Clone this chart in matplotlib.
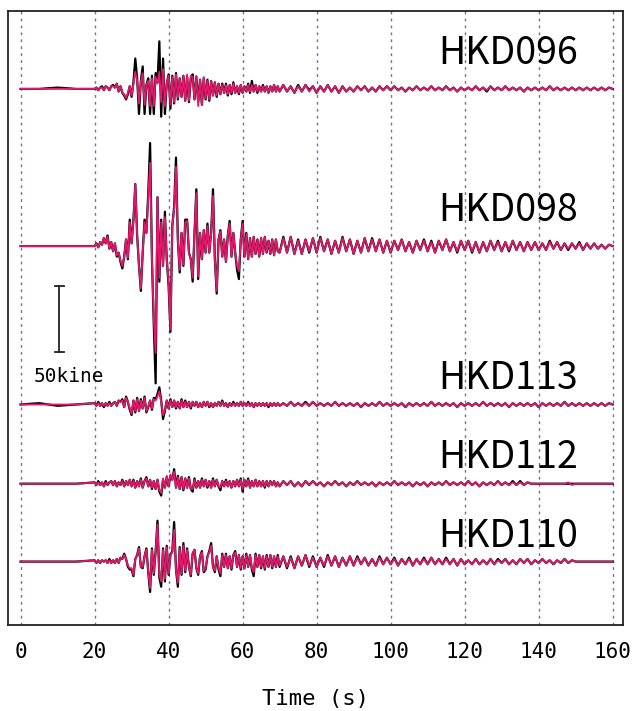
import numpy as np
import matplotlib
matplotlib.use("Agg")
import matplotlib.pyplot as plt

# time grid (s): coarse before onset, 0.5 s through the strong motion, 1 s in the coda
t = np.concatenate([np.arange(0, 20, 5), np.arange(20, 70, 0.5), np.arange(70, 161, 1)])

stations = ["HKD096", "HKD098", "HKD113", "HKD112", "HKD110"]
offsets = [406, 287, 167, 107, 48]          # trace baselines (kine)
label_y = [433, 314, 187, 127, 67]

# velocity (kine); black = observed, magenta = simulated
hkd096_obs = [0, 0, 1, 0,
    0, 1, -1, 1, 2, -1, 2, 1, -1, 2,
    3, 1, 4, -2, 2, -3, -5, -8, -4, 2,
    -6, 5, 23, 8, -19, 6, 17, -19, 3, 8,
    -19, 10, -19, 12, 5, 36, -21, 23, -19, 4,
    11, -15, 10, -11, 12, -8, 8, -6, 10, -9,
    9, -10, 8, 11, -8, 9, -10, 7, -12, 8,
    -8, 7, -9, 6, -5, 5, -6, 4, -4, 4,
    -3, 4, -5, 3, -4, 5, -3, 2, -4, 3,
    -3, 2, -2, 4, -3, 6, -2, 3, -3, 2,
    -2, 3, -2, 2, -3, 2, -2, 3, -2, 2,
    -2, 3, -2, 2, -3, 3, -2, 3, -1, 2,
    -3, 2, -2, 3, -2, 2, -3, 2, -2, 1,
    -2, 2, -1, 2, -2, 1, -2, 2, -1, 2,
    -1, 2, -1, 1, -2, 1, -1, 2, -1, 1,
    -1, 2, -1, 1, -1, 2, -1, 1, -2, 1,
    -1, 1, -1, 2, -1, 1, -2, 2, -1, 1,
    -1, 2, -1, 1, -1, 1, -2, 1, -1, 1,
    -1, 1, -1, 2, -1, 1, -1, 1, -1, 1,
    -1, 1, -1, 1, -1, 1, -1, 1, -1, 1, 0]
hkd096_syn = [0, 0, 0, 0,
    0, 1, -1, 1, 1, -1, 2, 1, -1, 2,
    2, 1, 4, -2, 2, -3, -4, -7, -3, 2,
    -5, 4, 13, 6, -11, 5, 12, -12, 3, 6,
    -13, 8, -13, 9, 4, 13, -10, 15, -13, 4,
    10, -12, 9, -10, 11, -7, 8, -6, 10, -9,
    11, -9, 10, 9, -8, 10, -13, 7, -12, 9,
    -7, 6, -8, 6, -5, 5, -5, 4, -4, 3,
    -3, 3, -4, 3, -3, 4, -3, 2, -3, 3,
    -3, 2, -2, 3, -2, 3, -2, 3, -2, 2,
    -2, 2, -2, 2, -3, 2, -2, 3, -2, 2,
    -2, 3, -2, 2, -3, 2, -2, 3, -2, 2,
    -3, 2, -2, 3, -2, 2, -3, 2, -2, 1,
    -2, 2, -1, 2, -2, 1, -2, 2, -1, 2,
    -1, 2, -1, 1, -2, 1, -1, 2, -1, 1,
    -1, 2, -1, 1, -1, 2, -1, 1, -2, 1,
    -1, 1, -1, 2, -1, 1, -1, 2, -1, 1,
    -1, 2, -1, 1, -1, 1, -2, 1, -1, 1,
    -1, 1, -1, 2, -1, 1, -1, 1, -1, 1,
    -1, 1, -1, 1, -1, 1, -1, 1, -1, 1, 0]

hkd098_obs = [0, 0, 0, 0,
    0, 2, -1, 3, 1, 6, 2, 8, -2, 3,
    -4, 2, -8, -5, -12, -17, -8, 5, -10, 20,
    2, 20, 47, 8, -15, -34, -5, 20, 10, 40,
    78, -10, -60, -104, 37, -27, 20, -15, 26, -10,
    -30, -65, 15, 30, 67, 5, -20, 10, -15, 20,
    20, -5, -10, -27, 10, 43, -25, 10, -10, 12,
    -5, 17, -5, 10, 43, -10, -36, 5, 12, -8,
    5, -12, 8, 19, -8, 10, -5, -18, -25, 5,
    19, -8, 10, -10, 6, -8, 7, -6, 5, -8,
    6, -6, 7, -5, 4, -6, 5, -7, 5, -4,
    -5, 7, -5, 7, -6, 5, -6, 5, -5, 6,
    -5, 7, -4, 5, -6, 4, -5, 7, -4, 5,
    -6, 4, -5, 6, -4, 6, -4, 5, -5, 4,
    -5, 4, -3, 5, -4, 3, -5, 4, -3, 5,
    -4, 4, -5, 4, -3, 5, -4, 3, -5, 4,
    -3, 4, -5, 3, -5, 3, -4, 4, -3, 4,
    -4, 3, -4, 4, -3, 3, -4, 3, -3, 3,
    -3, 2, -3, 4, -2, 3, -3, 2, -3, 2,
    -2, 3, -3, 2, -2, 2, -2, 1, -2, 1, 0]
hkd098_syn = [0, 0, 0, 0,
    0, 2, -1, 3, 1, 6, 2, 7, -2, 3,
    -4, 2, -7, -5, -11, -15, -8, 5, -9, 18,
    2, 20, 47, 8, -15, -32, -5, 18, 10, 36,
    63, -10, -55, -81, 37, -24, 18, -15, 22, -10,
    -28, -63, 15, 28, 60, 5, -18, 10, -14, 18,
    19, -5, -10, -24, 10, 40, -23, 10, -10, 12,
    -5, 15, -5, 10, 38, -10, -34, 5, 11, -8,
    5, -12, 8, 17, -8, 10, -5, -15, -19, 5,
    17, -8, 9, -10, 6, -8, 7, -6, 5, -8,
    6, -6, 7, -5, 4, -6, 5, -7, 5, -4,
    -5, 6, -5, 7, -6, 4, -6, 5, -4, 6,
    -5, 6, -4, 5, -6, 4, -5, 6, -4, 5,
    -6, 4, -5, 6, -4, 5, -4, 5, -5, 4,
    -5, 4, -3, 5, -4, 3, -5, 4, -3, 4,
    -4, 3, -5, 4, -3, 5, -4, 3, -4, 4,
    -3, 4, -4, 3, -5, 3, -4, 4, -3, 3,
    -4, 3, -3, 4, -3, 3, -4, 3, -3, 3,
    -3, 2, -3, 3, -2, 3, -3, 2, -2, 2,
    -2, 2, -3, 2, -2, 2, -2, 1, -2, 1, 0]

hkd113_obs = [0, 1, -1, 0,
    1, -1, 2, -1, 1, -2, 1, -1, 2, -1,
    1, 2, -1, 3, 2, 4, -2, 6, 2, -4,
    -8, 3, -6, 5, -5, 4, -3, 6, -6, -2,
    3, -4, 5, 4, 8, 13, 3, -11, -5, 3,
    -3, 4, -2, 3, -3, 2, -3, 4, -2, 3,
    -2, 2, -3, 2, -1, 2, -2, 1, -2, 2,
    -1, 2, -2, 1, -2, 1, -1, 2, -1, 3,
    -1, 1, -2, 1, -1, 2, -1, 1, -1, 2,
    -1, 1, -1, 2, -1, 1, -2, 1, -1, 1,
    -1, 1, -1, 1, -2, 1, -1, 1, -1, 1,
    -1, 1, -1, 2, -1, 1, -1, 2, -1, 2,
    -1, 1, -1, 1, -1, 2, -1, 1, -1, 1,
    -1, 1, -2, 1, -1, 1, -1, 2, -1, 1,
    -1, 1, -1, 1, -2, 1, -1, 1, -1, 1,
    -1, 2, -1, 1, -1, 1, -1, 1, -2, 1,
    -1, 1, -1, 1, -1, 2, -1, 1, -1, 1,
    -1, 1, -2, 1, -1, 1, -1, 1, -1, 1,
    -2, 1, -1, 1, -1, 1, -1, 2, -1, 1,
    -1, 1, -1, 1, -1, 1, -1, 1, -1, 1, 0]
hkd113_syn = [0, 0, 0, 0,
    1, -1, 1, -1, 1, -1, 1, -1, 1, -1,
    1, 2, -1, 3, 2, 3, -2, 5, 2, -3,
    -7, 3, -5, 4, -5, 3, -3, 5, -5, -2,
    3, -3, 4, 3, 6, 10, 2, -8, -4, 3,
    -3, 3, -2, 3, -2, 2, -3, 3, -2, 2,
    -2, 2, -2, 2, -1, 2, -2, 1, -2, 2,
    -1, 2, -1, 1, -2, 1, -1, 2, -1, 2,
    -1, 1, -2, 1, -1, 1, -1, 1, -1, 2,
    -1, 1, -1, 1, -1, 1, -2, 1, -1, 1,
    -1, 1, -1, 1, -1, 1, -1, 1, -1, 1,
    -1, 1, -1, 2, -1, 1, -1, 1, -1, 2,
    -1, 1, -1, 1, -1, 2, -1, 1, -1, 1,
    -1, 1, -2, 1, -1, 1, -1, 2, -1, 1,
    -1, 1, -1, 1, -2, 1, -1, 1, -1, 1,
    -1, 2, -1, 1, -1, 1, -1, 1, -2, 1,
    -1, 1, -1, 1, -1, 2, -1, 1, -1, 1,
    -1, 1, -2, 1, -1, 1, -1, 1, -1, 1,
    -2, 1, -1, 1, -1, 1, -1, 2, -1, 1,
    -1, 1, -1, 1, -1, 1, -1, 1, -1, 1, 0]

hkd112_obs = [0, 0, 0, 0,
    1, -1, 2, -1, 1, -2, 2, -1, 1, 2,
    -1, 2, -2, 1, -1, 3, -2, 2, -1, 3,
    -2, 3, -3, 2, -2, 4, -3, 2, 5, -2,
    3, -4, 2, -4, 3, -6, -9, 3, -3, 5,
    -2, 6, 3, 11, -3, 6, -4, 5, -5, 4,
    -3, 5, -4, -6, 4, -3, 2, -3, 4, -2,
    3, -3, 2, -3, 4, -2, 3, -2, -5, 2,
    -2, 3, -2, 2, -3, 2, -2, 3, -2, 4,
    -6, 3, -2, 4, -3, 2, -2, 3, -2, 2,
    -2, 2, -3, 2, -2, 2, -1, 2, -2, 1,
    -2, 2, -1, 2, -2, 1, -2, 2, -1, 2,
    -1, 1, -2, 1, -1, 2, -1, 1, -2, 1,
    -1, 2, -1, 1, -1, 1, -2, 1, -1, 1,
    -1, 2, -1, 1, -1, 1, -2, 1, -1, 1,
    -2, 1, -1, 1, -1, 2, -1, 1, -1, 1,
    -1, 2, -1, 1, -2, 1, -1, 1, -1, 2,
    -1, 1, -1, 2, -1, 2, -1, 1, 0, 0,
    0, 0, 0, 0, 0, 0, 0, 0, 0, 0,
    0, 0, 0, 0, 0, 0, 0, 0, 0, 0, 0]
hkd112_syn = [0, 0, 0, 0,
    1, -1, 1, -1, 1, -2, 1, -1, 1, 2,
    -1, 2, -2, 1, -1, 2, -2, 2, -1, 3,
    -2, 2, -3, 2, -2, 3, -3, 2, 4, -2,
    3, -3, 2, -4, 3, -5, -7, 4, -3, 6,
    -2, 7, 3, 9, -3, 5, -4, 5, -4, 4,
    -3, 4, -4, -4, 3, -3, 2, -3, 3, -2,
    3, -2, 2, -3, 3, -2, 3, -2, -3, 2,
    -2, 2, -2, 2, -3, 2, -2, 3, -2, 3,
    -4, 3, -2, 3, -3, 2, -2, 3, -2, 2,
    -2, 2, -2, 2, -2, 2, -1, 2, -2, 1,
    -2, 2, -1, 2, -2, 1, -2, 2, -1, 2,
    -1, 1, -2, 1, -1, 2, -1, 1, -2, 1,
    -1, 2, -1, 1, -1, 1, -2, 1, -1, 1,
    -1, 2, -1, 1, -1, 1, -2, 1, -1, 1,
    -2, 1, -1, 1, -1, 2, -1, 1, -1, 1,
    -1, 2, -1, 1, -2, 1, -1, 1, -1, 2,
    -1, 1, -1, 1, -1, 1, -1, 1, 0, 0,
    0, 0, 0, 0, 0, 0, 0, 0, 1, -1,
    0, 0, 0, 0, 0, 0, 0, 0, 0, 0, 0]

hkd110_obs = [0, 0, 0, 0,
    1, -1, 1, -1, 1, 0, 1, -1, 2, -1,
    1, -1, 2, -1, 3, 2, 6, 2, -4, -6,
    -6, -11, 2, 5, 11, -4, -5, 4, 10, -8,
    -23, 10, -10, 8, 31, -12, -19, 10, -15, 12,
    -10, 5, 8, 30, -6, -19, 11, -10, 14, -8,
    10, -4, -11, 6, 9, -5, -10, 4, 8, -8,
    -6, 4, 8, 14, -4, -8, 4, -6, -11, 6,
    -4, 6, -5, 4, -6, 5, 8, -4, 5, -6,
    4, -5, 6, -4, 5, -6, -11, 6, -4, 5,
    -5, 4, -6, 5, -4, 5, -5, 4, -4, 5,
    -4, 4, -5, 4, -5, 4, -3, 5, -4, 4,
    -4, 3, -4, 5, -3, 4, -4, 3, -3, 4,
    -3, 4, -2, 3, -3, 2, -3, 4, -2, 3,
    -2, 3, -3, 2, -2, 3, -3, 2, -2, 3,
    -2, 3, -2, 2, -2, 3, -2, 2, -3, 2,
    -2, 1, -2, 2, -2, 1, -2, 2, -2, 2,
    -1, 2, -2, 1, -2, 2, -1, 2, -2, 1,
    -1, 2, -1, 1, -2, 1, -1, 2, -1, 1,
    0, 0, 0, 0, 0, 0, 0, 0, 0, 0, 0]
hkd110_syn = [0, 0, 0, 0,
    1, -1, 1, -1, 1, 0, 1, -1, 1, -1,
    1, -1, 2, -1, 3, 2, 5, 2, -3, -5,
    -5, -10, 2, 5, 10, -4, -4, 4, 9, -7,
    -20, 9, -9, 8, 28, -10, -15, 9, -13, 11,
    -9, 5, 7, 24, -6, -16, 10, -9, 12, -7,
    9, -4, -10, 6, 9, -5, -9, 4, 7, -7,
    -5, 4, 7, 12, -4, -7, 4, -5, -9, 5,
    -4, 5, -5, 4, -5, 5, 7, -4, 5, -5,
    4, -5, 5, -4, 5, -5, -8, 5, -4, 5,
    -4, 4, -5, 4, -4, 5, -4, 4, -4, 4,
    -3, 4, -4, 3, -5, 4, -3, 5, -3, 3,
    -4, 3, -3, 4, -3, 4, -4, 3, -3, 4,
    -3, 3, -2, 3, -3, 2, -3, 3, -2, 3,
    -2, 2, -3, 2, -2, 2, -3, 2, -2, 2,
    -2, 3, -2, 2, -2, 2, -2, 2, -3, 2,
    -2, 1, -2, 2, -2, 1, -2, 2, -2, 1,
    -1, 2, -2, 1, -2, 2, -1, 2, -2, 1,
    -1, 2, -1, 1, -2, 1, -1, 2, -1, 1,
    0, 0, 0, 0, 0, 0, 0, 0, 0, 0, 0]

observed = [hkd096_obs, hkd098_obs, hkd113_obs, hkd112_obs, hkd110_obs]
simulated = [hkd096_syn, hkd098_syn, hkd113_syn, hkd112_syn, hkd110_syn]

xticks = [0, 20, 40, 60, 80, 100, 120, 140, 160]
scale_kine = 50

fig = plt.figure(figsize=(6.33, 7.11), dpi=100)
ax = fig.add_axes([8 / 633, 86 / 711, 615 / 633, 614 / 711])

for x in xticks:
    ax.axvline(x, color="#6b6bb8", lw=1.0, ls=(0, (2, 3)), zorder=1)

for name, off, ly, obs, syn in zip(stations, offsets, label_y, observed, simulated):
    ax.plot(t, off + np.array(obs), color="black", lw=1.6, zorder=2)
    ax.plot(t, off + np.array(syn), color="#e0196b", lw=1.3, zorder=3)
    ax.text(150.7, ly, name, ha="right", va="center", fontsize=27,
            family=["Noto Sans CJK JP", "DejaVu Sans"], color="black")

# 50 kine scale bar
ax.plot([10.4, 10.4], [207, 207 + scale_kine], color="#222222", lw=1.3)
ax.plot([9.2, 11.6], [207, 207], color="#222222", lw=1.3)
ax.plot([9.2, 11.6], [207 + scale_kine, 207 + scale_kine], color="#222222", lw=1.3)
ax.text(13.0, 188, "50kine", ha="center", va="center", fontsize=14,
        family="DejaVu Sans Mono")

ax.set_xlim(-3.4, 162.8)
ax.set_ylim(0, 465)
ax.set_yticks([])
ax.set_xticks(xticks)
ax.set_xticklabels([str(v) for v in xticks], family="DejaVu Sans Mono", fontsize=15)
ax.tick_params(axis="x", length=0, pad=12)
ax.set_xlabel("Time (s)", family="DejaVu Sans Mono", fontsize=16, labelpad=20)
for s in ax.spines.values():
    s.set_linewidth(1.3)
    s.set_color("#222222")

fig.savefig("out.png", dpi=100)
